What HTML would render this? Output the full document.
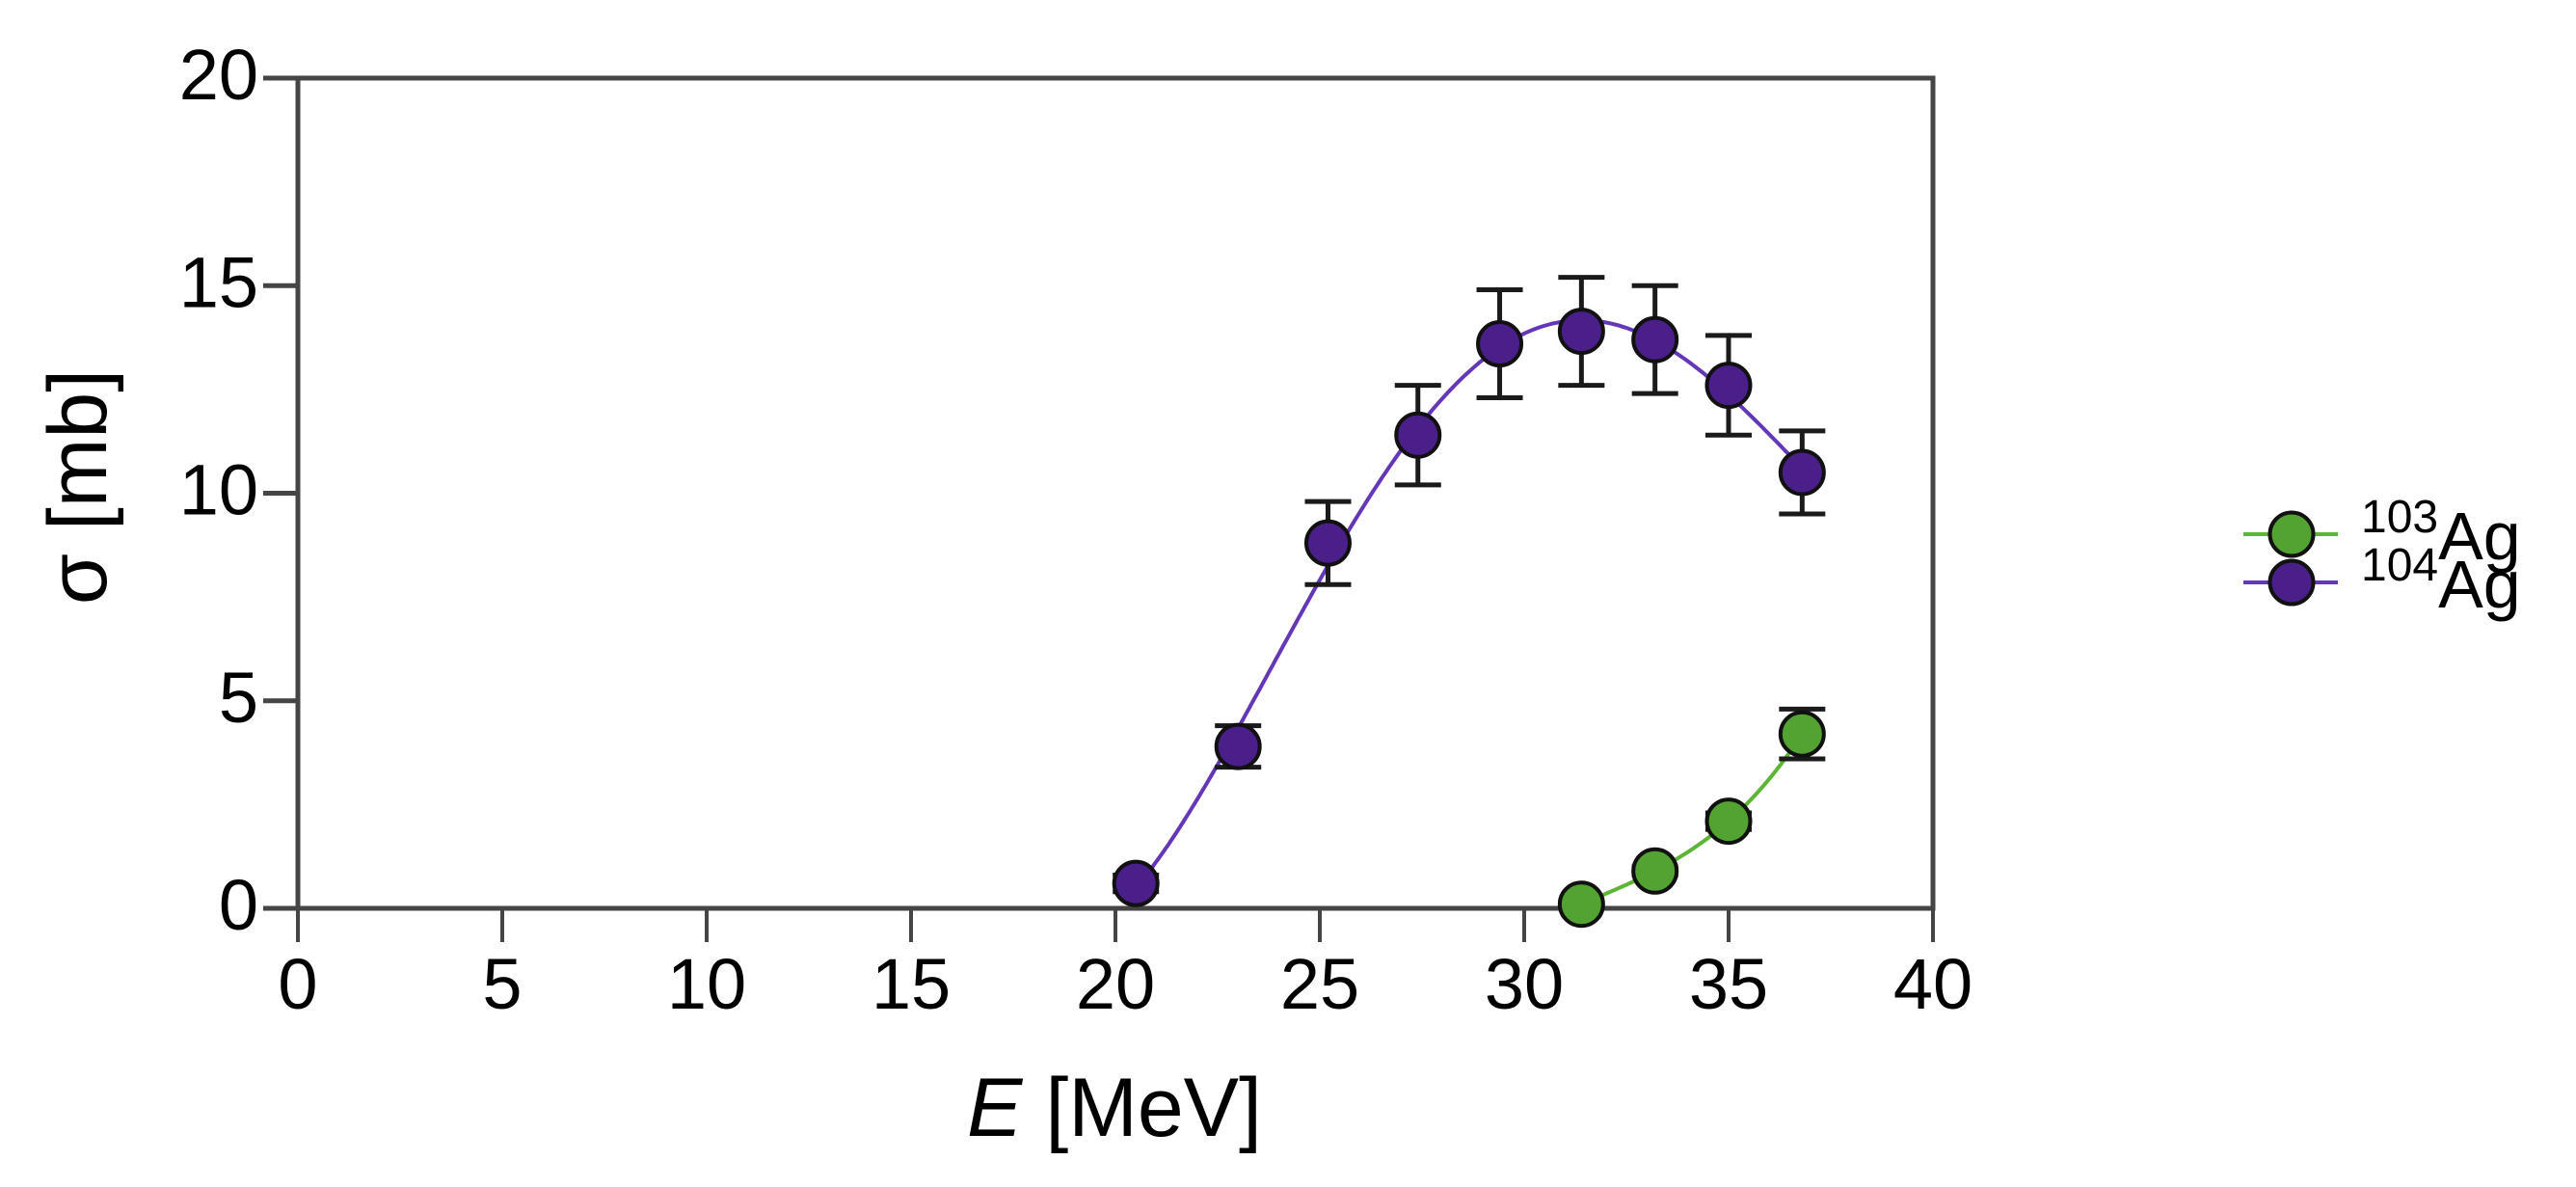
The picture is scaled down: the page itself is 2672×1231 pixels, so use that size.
<!DOCTYPE html>
<html><head><meta charset="utf-8"><style>
html,body{margin:0;padding:0;background:#fff;}
svg{display:block;font-family:"Liberation Sans",Arial,sans-serif;}
</style></head><body>
<svg id="chart" width="2672" height="1231" viewBox="0 0 2672 1231" xmlns="http://www.w3.org/2000/svg">
<g id="axes"></g>
<g id="series"></g>
<text x="1156" y="1178" font-size="86" text-anchor="middle" fill="#000"><tspan font-style="italic">E</tspan> [MeV]</text>
<text transform="translate(110,505) rotate(-90)" font-size="86" text-anchor="middle" fill="#000">σ [mb]</text>
<g id="legend"></g>
</svg>
<script>
const xTicks = [0,5,10,15,20,25,30,35,40];
const yTicks = [0,5,10,15,20];
const e104 = [20.5,23.0,25.2,27.4,29.4,31.4,33.2,35.0,36.8];
const s104 = [0.6,3.9,8.8,11.4,13.6,13.9,13.7,12.6,10.5];
const err104 = [0.2,0.5,1.0,1.2,1.3,1.3,1.3,1.2,1.0];
const e103 = [31.4,33.2,35.0,36.8];
const s103 = [0.1,0.9,2.1,4.2];
const err103 = [0.05,0.1,0.2,0.6];
const seriesNames = ["103","104"];

const X0=309,X1=2005,Y0=942,Y1=81;
const sx=v=>X0+(v-0)/(40-0)*(X1-X0);
const sy=v=>Y0-(v-0)/(20-0)*(Y0-Y1);
const NS="http://www.w3.org/2000/svg";
function mk(tag,attrs,parent){const el=document.createElementNS(NS,tag);for(const k in attrs)el.setAttribute(k,attrs[k]);parent.appendChild(el);return el;}
const axes=document.getElementById('axes');
const AX="#454545";
let fr=mk('rect',{x:X0,y:Y1,width:X1-X0,height:Y0-Y1,fill:'none',stroke:AX,'stroke-width':5},axes);


xTicks.forEach(t=>{
  const x=sx(t);
  const l=mk('line',{x1:x,y1:Y0,x2:x,y2:Y0+35,stroke:AX,'stroke-width':4},axes);
  
  
  const tx=mk('text',{x:x,y:1046,'font-size':74,'text-anchor':'middle',fill:'#000'},axes);
  tx.textContent=t;
  
  
});
yTicks.forEach(t=>{
  const y=sy(t);
  const l=mk('line',{x1:X0-36,y1:y,x2:X0,y2:y,stroke:AX,'stroke-width':5},axes);
  
  
  const tx=mk('text',{x:268,y:y+22,'font-size':74,'text-anchor':'end',fill:'#000'},axes);
  tx.textContent=t;
  
  
});
// least-squares polynomial fit curve through data
function polyfit(xs,ys,deg){
  const m=xs.reduce((a,b)=>a+b,0)/xs.length, s=(Math.max(...xs)-Math.min(...xs))/2||1;
  const n=deg+1, A=[];
  for(let r=0;r<n;r++){A.push(new Array(n+1).fill(0));}
  xs.forEach((x,i)=>{const u=(x-m)/s;for(let r=0;r<n;r++){for(let c=0;c<n;c++)A[r][c]+=Math.pow(u,r+c);A[r][n]+=ys[i]*Math.pow(u,r);}});
  for(let i=0;i<n;i++){let p=i;for(let k=i+1;k<n;k++)if(Math.abs(A[k][i])>Math.abs(A[p][i]))p=k;[A[i],A[p]]=[A[p],A[i]];
    for(let k=0;k<n;k++){if(k===i)continue;const f=A[k][i]/A[i][i];for(let c=i;c<=n;c++)A[k][c]-=f*A[i][c];}}
  const co=A.map((r,i)=>r[n]/r[i]);
  return x=>{const u=(x-m)/s;let y=0;for(let i=0;i<n;i++)y+=co[i]*Math.pow(u,i);return y;};
}
function fitPath(xs,ys,deg){
  const f=polyfit(xs,ys,deg),a=xs[0],b=xs[xs.length-1],pts=[];
  for(let k=0;k<=200;k++){const x=a+(b-a)*k/200;pts.push(sx(x).toFixed(1)+','+sy(f(x)).toFixed(1));}
  return 'M'+pts.join(' L');
}
const ser=document.getElementById('series');
function drawSeries(xs,ys,errs,fill,lc,name,deg){
  const g=mk('g',{},ser);
  
  
  const p=mk('path',{d:fitPath(xs,ys,deg),fill:'none',stroke:lc,'stroke-width':4},g);
  
  
  xs.forEach((x,i)=>{
    const cx=sx(x),top=sy(ys[i]+errs[i]),bot=sy(ys[i]-errs[i]);
    const eb=mk('path',{d:`M${cx},${top}V${bot}M${cx-24},${top}H${cx+24}M${cx-24},${bot}H${cx+24}`,stroke:'#1a1a1a','stroke-width':5,fill:'none'},g);
    
    
  });
  xs.forEach((x,i)=>{
    const c=mk('circle',{cx:sx(x),cy:sy(ys[i]),r:22.5,fill:fill,stroke:'#111','stroke-width':4},g);
    
    
  });
}
drawSeries(e103,s103,err103,'#52a332','#5cb535','ag103',3);
drawSeries(e104,s104,err104,'#4a1f8a','#6436b8','ag104',4);
const leg=document.getElementById('legend');
[[seriesNames[0],'#52a332','#5cb535',554],[seriesNames[1],'#4a1f8a','#6436b8',604]].forEach(([n,f,lc,y])=>{
  const g=mk('g',{},leg);
  
  
  mk('line',{x1:2327,y1:y,x2:2425,y2:y,stroke:lc,'stroke-width':4},g);
  mk('circle',{cx:2377,cy:y,r:22.5,fill:f,stroke:'#111','stroke-width':4},g);
  const t=mk('text',{x:2449,y:y+26,'font-size':70,fill:'#000'},g);
  const s=mk('tspan',{'font-size':48,dy:-28},t); s.textContent=n;
  const a=mk('tspan',{dy:28},t); a.textContent='Ag';
});
</script>
</body></html>
